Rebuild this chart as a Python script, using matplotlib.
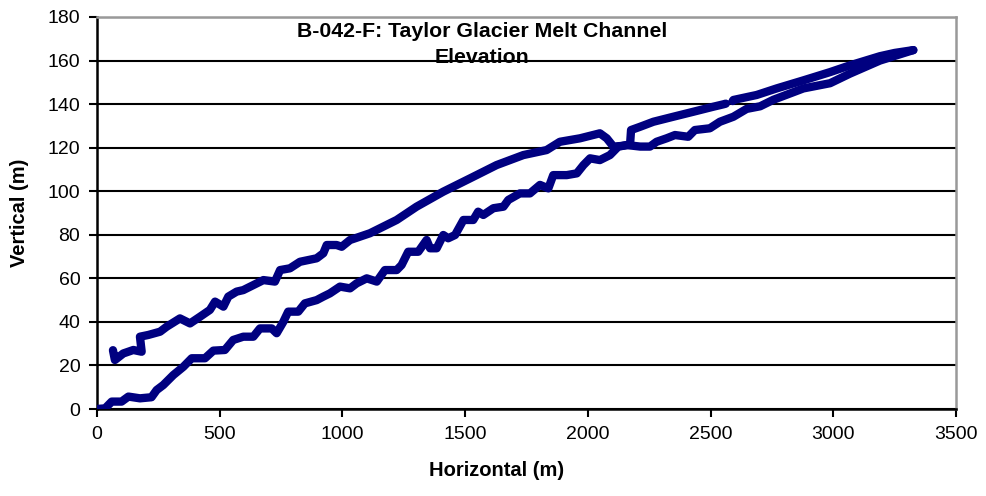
import numpy as np
import matplotlib
matplotlib.use("Agg")
import matplotlib.pyplot as plt

plt.rcParams['font.family'] = ['Liberation Sans', 'DejaVu Sans']

# Outbound traverse (lower path)
x_out = [0, 33, 60, 100, 128, 175, 222, 243, 270, 311, 352, 386, 440, 474, 521, 555, 596, 637,
         664, 712, 732, 759, 779, 820, 847, 895, 922, 949, 990, 1031, 1058, 1099, 1140, 1173,
         1221, 1241, 1268, 1309, 1343, 1357, 1384, 1411, 1431, 1459, 1493, 1533, 1553, 1574,
         1615, 1656, 1676, 1723, 1764, 1805, 1839, 1859, 1914, 1955, 1982, 2009, 2049, 2090,
         2124, 2159, 2213, 2253, 2280, 2321, 2355, 2409, 2436, 2497, 2538, 2593, 2647, 2702,
         2756, 2878, 2987, 3068, 3190, 3326]
y_out = [0, 0.3, 3.4, 3.4, 5.7, 4.9, 5.4, 8.7, 11, 15.6, 19.4, 23.3, 23.3, 26.8, 27.1, 31.7, 33.2,
         33.2, 37, 37, 34.8, 40, 44.7, 44.7, 48.5, 50, 51.6, 53.1, 56.2, 55.4, 57.7, 60, 58.5,
         63.8, 63.8, 66.1, 72.2, 72.2, 77.6, 73.8, 73.8, 79.9, 78.4, 79.9, 86.8, 86.8, 90.6,
         89.1, 92.2, 92.9, 96, 99, 99, 102.9, 101.3, 107.4, 107.4, 108.2, 112, 115.1, 114.3,
         116.6, 120.5, 121.2, 120.5, 120.5, 122.7, 124.3, 125.8, 125, 128.1, 128.9, 131.9,
         134.2, 137.8, 139, 142, 147.2, 149.6, 154, 160, 164.8]

# Return traverse (upper path), right to left
x_back = [3326, 3250, 3190, 3068, 2987, 2878, 2769, 2688, 2593, 2590, 2578, 2562, 2552, 2511,
          2430, 2348, 2267, 2213, 2176, 2172, 2140, 2104, 2077, 2049, 1968, 1886, 1832, 1737,
          1628, 1520, 1411, 1302, 1221, 1112, 1031, 997, 976, 936, 922, 895, 827, 786, 746, 725,
          678, 596, 569, 535, 515, 481, 460, 420, 379, 338, 284, 257, 209, 175, 182, 148, 107,
          90, 73, 65]
y_back = [164.8, 163.5, 162, 157.8, 154.7, 150.9, 147.2, 144.2, 141.9, 141.4, np.nan, 140.2,
          139.9, 138.8, 136.5, 134.2, 131.9, 129.6, 128.1, 121.5, 120.8, 120.5, 124.3, 126.6,
          124.3, 122.7, 118.9, 116.6, 112, 105.9, 99.8, 92.9, 86.8, 80.7, 77.6, 74.5, 75.3, 75.3,
          71.5, 69.2, 67.6, 64.6, 63.8, 58.5, 59.2, 54.6, 53.9, 51.6, 47, 49.3, 45.5, 42.4, 39.3,
          41.6, 37.8, 35.5, 34, 33.2, 26.3, 27.1, 25.5, 24, 22.5, 27]

x_ticks = [0, 500, 1000, 1500, 2000, 2500, 3000, 3500]
y_ticks = [0, 20, 40, 60, 80, 100, 120, 140, 160, 180]

title = "B-042-F: Taylor Glacier Melt Channel\nElevation"
x_label = "Horizontal (m)"
y_label = "Vertical (m)"

W, H = 987, 496
fig = plt.figure(figsize=(W / 100, H / 100), dpi=100)
ax = fig.add_axes([97 / W, 1 - 409 / H, (956 - 97) / W, (409 - 17) / H])

navy = "#000080"
ax.plot(x_out, y_out, color=navy, lw=6, solid_capstyle='round', solid_joinstyle='round', zorder=3)
ax.plot(x_back, y_back, color=navy, lw=6, solid_capstyle='round', solid_joinstyle='round', zorder=3)

ax.set_xlim(0, 3500)
ax.set_ylim(0, 180)
ax.set_xticks(x_ticks)
ax.set_yticks(y_ticks)
ax.set_xticklabels([str(v) for v in x_ticks])
ax.set_yticklabels([str(v) for v in y_ticks])
ax.tick_params(axis='both', direction='out', length=6, width=1.5, labelsize=14, color='black',
               pad=6)
ax.yaxis.grid(True, color='black', lw=1.5, zorder=1)
ax.set_axisbelow(True)

for s in ['left', 'bottom']:
    ax.spines[s].set_color('black')
    ax.spines[s].set_linewidth(1.8)
for s in ['top', 'right']:
    ax.spines[s].set_color('#999999')
    ax.spines[s].set_linewidth(1.8)

fig.text(482 / W, 1 - 44.5 / H, title, ha='center', va='center', fontsize=15.3,
         fontweight='bold', linespacing=1.45)
fig.text(497 / W, 1 - 470 / H, x_label, ha='center', va='center', fontsize=14.5, fontweight='bold')
fig.text(20 / W, 1 - 213 / H, y_label, ha='center', va='center', fontsize=14.5,
         fontweight='bold', rotation=90)

fig.savefig("out.png", dpi=100)
